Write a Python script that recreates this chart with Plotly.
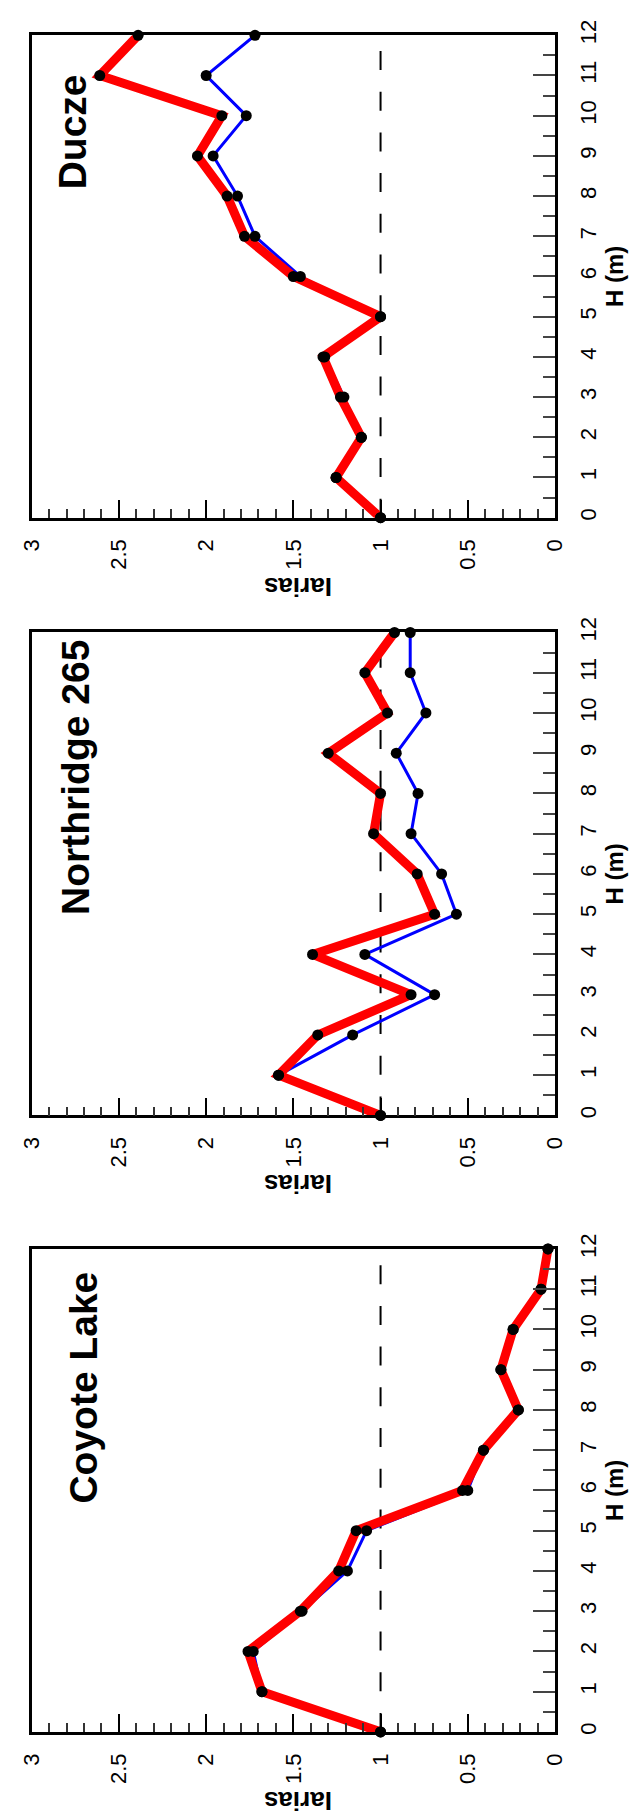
import plotly.graph_objects as go

# Height above ground (m)
heights = [0, 1, 2, 3, 4, 5, 6, 7, 8, 9, 10, 11, 12]

# Arias intensity ratio per station (blue = thin series, red = thick series)
coyote_blue = [1.00, 1.68, 1.73, 1.45, 1.19, 1.08, 0.50, 0.41, 0.21, 0.31, 0.24, 0.08, 0.04]
coyote_red = [1.00, 1.68, 1.76, 1.46, 1.24, 1.14, 0.53, 0.41, 0.21, 0.31, 0.24, 0.08, 0.04]

northridge_blue = [1.00, 1.585, 1.16, 0.69, 1.09, 0.565, 0.65, 0.825, 0.785, 0.91, 0.74, 0.83, 0.83]
northridge_red = [1.00, 1.585, 1.36, 0.825, 1.39, 0.69, 0.79, 1.04, 1.00, 1.30, 0.96, 1.09, 0.92]

ducze_blue = [1.00, 1.255, 1.11, 1.21, 1.32, 1.00, 1.46, 1.72, 1.82, 1.96, 1.77, 2.00, 1.72]
ducze_red = [1.00, 1.255, 1.11, 1.23, 1.33, 1.00, 1.50, 1.78, 1.88, 2.05, 1.91, 2.61, 2.39]

station_names = ["Ducze", "Northridge 265", "Coyote Lake"]
# title anchor (Iarias, H) inside each panel
title_pos = [(2.766, 9.6), (2.749, 8.4), (2.705, 8.56)]

reference_level = [1, 1]
reference_span = [0, 12]

iarias_ticks = [0, 0.5, 1, 1.5, 2, 2.5, 3]
iarias_ticktext = ["0", "0.5", "1", "1.5", "2", "2.5", "3"]
h_ticks = list(range(0, 13))
h_ticktext = [str(v) for v in h_ticks]

W, H = 640, 1818
FONT = "Liberation Sans, Arial, Helvetica, sans-serif"

# panel frames in pixels: (top, bottom)
frame_left, frame_right = 19.5, 564.0
frames = [(19.5, 507.0), (623.0, 1111.0), (1246.0, 1734.0)]

series = [
    (ducze_blue, ducze_red),
    (northridge_blue, northridge_red),
    (coyote_blue, coyote_red),
]

fig = go.Figure()

for i, (blue, red) in enumerate(series):
    sfx = "" if i == 0 else str(i + 1)
    xa, ya = "x" + sfx, "y" + sfx
    fig.add_trace(go.Scatter(x=reference_level, y=reference_span, mode="lines",
                             line=dict(color="black", width=2, dash="19px,21.7px"),
                             xaxis=xa, yaxis=ya, hoverinfo="skip"))
    fig.add_trace(go.Scatter(x=blue, y=heights, mode="lines",
                             line=dict(color="#0000ff", width=3),
                             xaxis=xa, yaxis=ya, cliponaxis=False))
    fig.add_trace(go.Scatter(x=red, y=heights, mode="lines",
                             line=dict(color="#ff0000", width=9),
                             xaxis=xa, yaxis=ya, cliponaxis=False))
    for vals in (blue, red):
        fig.add_trace(go.Scatter(x=vals, y=heights, mode="markers",
                                 marker=dict(color="black", size=11),
                                 xaxis=xa, yaxis=ya, cliponaxis=False))

layout = dict(
    width=W, height=H,
    margin=dict(l=0, r=0, t=0, b=0),
    paper_bgcolor="white", plot_bgcolor="white",
    showlegend=False,
    font=dict(family=FONT, color="black"),
)

annotations = []
for i, (top, bottom) in enumerate(frames):
    sfx = "" if i == 0 else str(i + 1)
    ydom = [1 - bottom / H, 1 - top / H]
    layout["xaxis" + sfx] = dict(
        domain=[frame_left / W, frame_right / W],
        anchor="y" + sfx,
        range=[3, 0],
        tickmode="array", tickvals=iarias_ticks, ticktext=iarias_ticktext,
        tickangle=-90,
        ticks="inside", ticklen=18, tickwidth=1.5, tickcolor="black",
        minor=dict(tickmode="linear", tick0=0, dtick=0.1, ticks="inside",
                   ticklen=9, tickwidth=1.5, tickcolor="#333"),
        ticklabelstandoff=10,
        tickfont=dict(size=22, family=FONT, color="black"),
        showline=True, linewidth=2.5, linecolor="black", mirror=True,
        showgrid=False, zeroline=False, fixedrange=True,
    )
    layout["yaxis" + sfx] = dict(
        domain=ydom,
        anchor="x" + sfx,
        side="right",
        range=[0, 12],
        tickmode="array", tickvals=h_ticks, ticktext=h_ticktext,
        tickangle=-90,
        ticks="inside", ticklen=22, tickwidth=1.5, tickcolor="#444",
        minor=dict(tickmode="linear", tick0=0, dtick=0.5, ticks="inside",
                   ticklen=12, tickwidth=1.5, tickcolor="#444"),
        ticklabelstandoff=12,
        tickfont=dict(size=22, family=FONT, color="black"),
        showline=True, linewidth=2.5, linecolor="black", mirror=True,
        showgrid=False, zeroline=False, fixedrange=True,
    )
    # station name inside the panel
    tx, ty = title_pos[i]
    annotations.append(dict(
        text=station_names[i], x=tx, y=ty, xref="x" + sfx, yref="y" + sfx,
        textangle=-90, showarrow=False, xanchor="center", yanchor="middle",
        font=dict(size=39, family=FONT, color="black", weight="bold"),
    ))
    # axis titles
    annotations.append(dict(
        text="Iarias", x=296 / W, y=1 - (bottom + 70) / H,
        xref="paper", yref="paper", textangle=180, showarrow=False,
        xanchor="center", yanchor="middle",
        font=dict(size=26, family=FONT, color="black", weight="bold"),
    ))
    annotations.append(dict(
        text="H (m)", x=626 / W, y=1 - ((top + bottom) / 2) / H,
        xref="paper", yref="paper", textangle=-90, showarrow=False,
        xanchor="center", yanchor="middle",
        font=dict(size=24, family=FONT, color="black", weight="bold"),
    ))

layout["annotations"] = annotations
fig.update_layout(**layout)

fig.write_html("out.html")
